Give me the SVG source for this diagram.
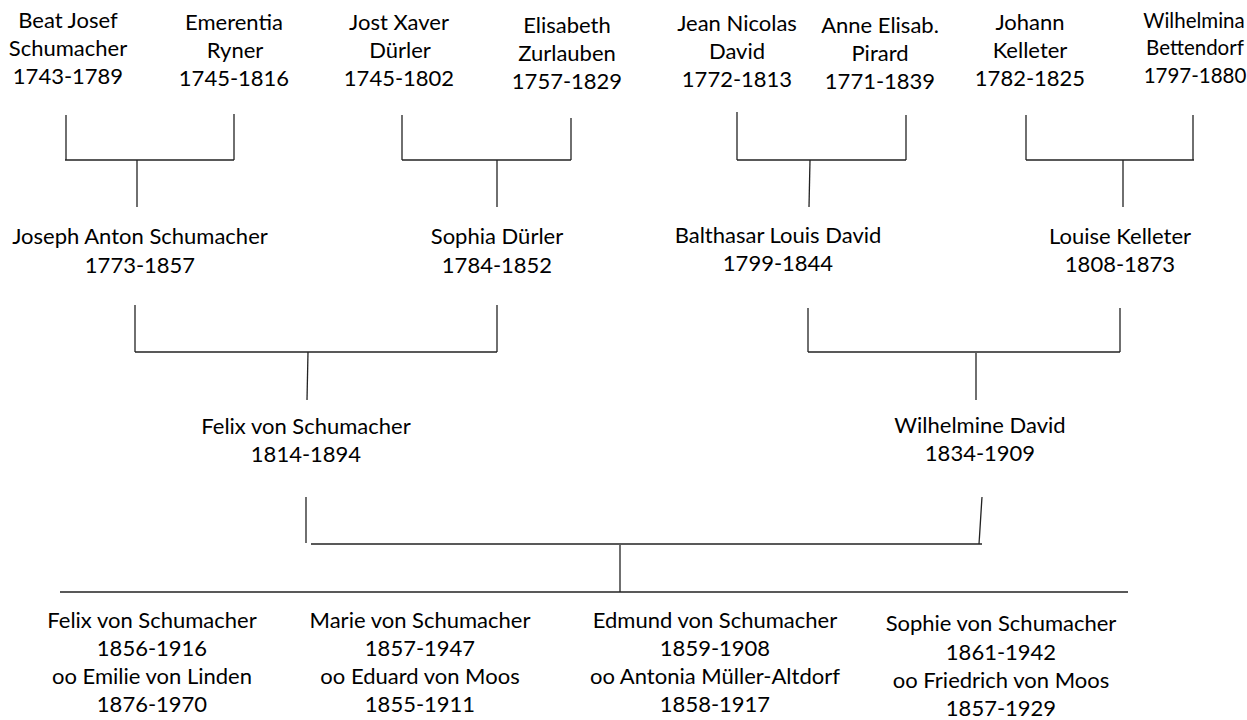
<svg xmlns="http://www.w3.org/2000/svg" width="1247" height="720" viewBox="0 0 1247 720">
<style>
text{font-family:Lato,"Liberation Sans",sans-serif;font-size:22px;fill:#000;text-anchor:middle}
.edge text{font-size:20.5px}
.c line{stroke:#222;stroke-width:1.3;fill:none}
</style>
<rect width="1247" height="720" fill="#fff"/>
<g id="n-beat"><text x="68" y="28">Beat Josef</text><text x="68" y="56">Schumacher</text><text x="68" y="84">1743-1789</text></g>
<g id="n-emerentia"><text x="234" y="30">Emerentia</text><text x="235" y="58">Ryner</text><text x="234" y="86">1745-1816</text></g>
<g id="n-jost"><text x="399" y="30">Jost Xaver</text><text x="400" y="58">Dürler</text><text x="399" y="86">1745-1802</text></g>
<g id="n-elisabeth"><text x="567" y="33">Elisabeth</text><text x="567" y="61">Zurlauben</text><text x="567" y="89">1757-1829</text></g>
<g id="n-jean"><text x="737" y="31">Jean Nicolas</text><text x="737" y="59">David</text><text x="737" y="87">1772-1813</text></g>
<g id="n-anne"><text x="880" y="33">Anne Elisab.</text><text x="880" y="61">Pirard</text><text x="880" y="89">1771-1839</text></g>
<g id="n-johann"><text x="1030" y="30">Johann</text><text x="1030" y="58">Kelleter</text><text x="1030" y="86">1782-1825</text></g>
<g id="n-wilhelmina" class="edge"><text x="1194" y="28">Wilhelmina</text><text x="1195" y="55">Bettendorf</text><text x="1195" y="83">1797-1880</text></g>
<g id="n-joseph"><text x="140" y="244">Joseph Anton Schumacher</text><text x="140" y="273">1773-1857</text></g>
<g id="n-sophia"><text x="497" y="244">Sophia Dürler</text><text x="497" y="273">1784-1852</text></g>
<g id="n-balthasar"><text x="778" y="243">Balthasar Louis David</text><text x="778" y="271">1799-1844</text></g>
<g id="n-louise"><text x="1120" y="244">Louise Kelleter</text><text x="1120" y="272">1808-1873</text></g>
<g id="n-felix"><text x="306" y="434">Felix von Schumacher</text><text x="306" y="462">1814-1894</text></g>
<g id="n-wilhelmine"><text x="980" y="433">Wilhelmine David</text><text x="980" y="461">1834-1909</text></g>
<g id="n-felix2"><text x="152" y="628">Felix von Schumacher</text><text x="152" y="656">1856-1916</text><text x="152" y="684">oo Emilie von Linden</text><text x="152" y="712">1876-1970</text></g>
<g id="n-marie"><text x="420" y="628">Marie von Schumacher</text><text x="420" y="656">1857-1947</text><text x="420" y="684">oo Eduard von Moos</text><text x="420" y="712">1855-1911</text></g>
<g id="n-edmund"><text x="715" y="628">Edmund von Schumacher</text><text x="715" y="656">1859-1908</text><text x="715" y="684">oo Antonia Müller-Altdorf</text><text x="715" y="712">1858-1917</text></g>
<g id="n-sophie"><text x="1001" y="631">Sophie von Schumacher</text><text x="1001" y="660">1861-1942</text><text x="1001" y="688">oo Friedrich von Moos</text><text x="1001" y="716">1857-1929</text></g>
<g id="connectors" class="c">
<line x1="66" y1="115" x2="66" y2="160"/><line x1="234" y1="114" x2="234" y2="160"/><line x1="65" y1="160" x2="234" y2="160"/><line x1="137" y1="160" x2="137" y2="207"/>
<line x1="402" y1="115" x2="402" y2="160"/><line x1="571" y1="118" x2="571" y2="160"/><line x1="402" y1="160" x2="571" y2="160"/><line x1="497" y1="160" x2="497" y2="207"/>
<line x1="737" y1="112" x2="737" y2="160"/><line x1="906" y1="115" x2="906" y2="160"/><line x1="737" y1="160" x2="906" y2="160"/><line x1="810" y1="160" x2="809" y2="207"/>
<line x1="1026" y1="115" x2="1026" y2="160"/><line x1="1193" y1="115" x2="1193" y2="160"/><line x1="1026" y1="160" x2="1194" y2="160"/><line x1="1123" y1="160" x2="1123" y2="207"/>
<line x1="135" y1="305" x2="135" y2="352"/><line x1="497" y1="305" x2="497" y2="352"/><line x1="135" y1="352" x2="497" y2="352"/><line x1="308" y1="352" x2="307" y2="400"/>
<line x1="808" y1="308" x2="808" y2="352"/><line x1="1120" y1="308" x2="1120" y2="352"/><line x1="808" y1="352" x2="1120" y2="352"/><line x1="976" y1="353" x2="976" y2="400"/>
<line x1="306" y1="497" x2="306" y2="543"/><line x1="982" y1="497" x2="979" y2="544"/><line x1="311" y1="544" x2="982" y2="544"/><line x1="620" y1="545" x2="620" y2="592"/>
<line x1="60" y1="592" x2="1128" y2="592"/>
</g>
</svg>
